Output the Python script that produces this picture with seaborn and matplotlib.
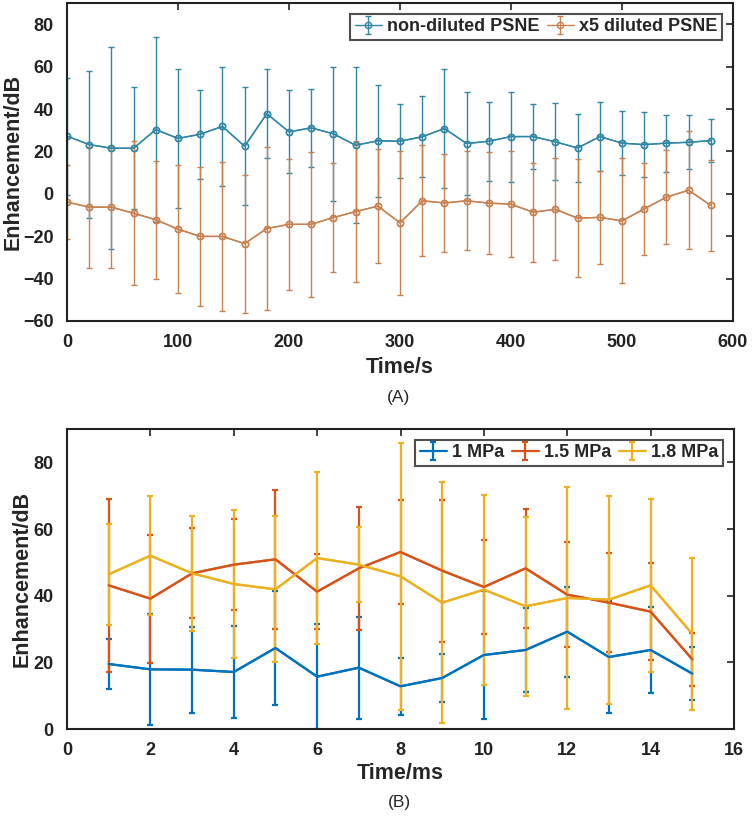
import numpy as np
import pandas as pd
import matplotlib
matplotlib.use("Agg")
import matplotlib.pyplot as plt
import seaborn as sns

# ---- Panel A data ----
time_s = [0, 20, 40, 60, 80, 100, 120, 140, 160, 180, 200, 220, 240, 260, 280,
          300, 320, 340, 360, 380, 400, 420, 440, 460, 480, 500, 520, 540, 560, 580]
nondiluted_mean = [27.2, 23.2, 21.5, 21.5, 30.3, 26.1, 28.1, 31.8, 22.4, 37.8, 29.2, 31.1, 28.3, 22.9, 25.0,
                   24.8, 26.9, 30.8, 23.7, 24.8, 27.0, 27.0, 24.5, 21.6, 27.0, 23.9, 23.2, 23.9, 24.3, 25.1]
nondiluted_err = [27.6, 34.8, 47.7, 28.7, 43.5, 32.8, 20.9, 28.2, 27.8, 21.1, 19.6, 18.3, 31.7, 36.8, 26.3,
                  17.5, 19.2, 28.1, 24.5, 18.6, 21.2, 15.3, 18.2, 16.2, 16.4, 15.1, 15.3, 13.4, 12.8, 10.3]
diluted_mean = [-3.9, -6.3, -6.3, -9.2, -12.2, -16.7, -20.1, -20.1, -23.5, -16.4, -14.4, -14.4, -11.2, -8.4, -5.8,
                -13.7, -3.3, -4.3, -3.3, -4.4, -4.9, -8.7, -7.3, -11.5, -11.1, -12.8, -7.1, -1.6, 1.7, -5.5]
diluted_err = [17.4, 28.5, 28.5, 34.0, 27.8, 30.2, 32.8, 35.2, 32.6, 38.4, 31.0, 34.3, 25.5, 33.3, 26.7,
               33.9, 26.2, 23.2, 23.4, 24.0, 25.0, 23.4, 24.0, 27.7, 21.8, 29.5, 21.8, 22.3, 27.8, 21.5]
labels_a = ["non-diluted PSNE", "x5 diluted PSNE"]

# ---- Panel B data ----
time_ms = [1, 2, 3, 4, 5, 6, 7, 8, 9, 10, 11, 12, 13, 14, 15]
mpa1_mean = [19.5, 17.9, 17.8, 17.1, 24.3, 15.7, 18.4, 12.8, 15.3, 22.2, 23.7, 29.2, 21.6, 23.7, 16.6]
mpa1_err = [7.4, 16.7, 12.9, 13.8, 17.2, 15.7, 15.3, 8.5, 7.3, 19.1, 12.6, 13.5, 16.7, 12.9, 8.0]
mpa15_mean = [43.1, 39.1, 46.7, 49.3, 50.9, 41.2, 48.2, 53.1, 47.5, 42.6, 48.2, 40.3, 37.9, 35.2, 20.9]
mpa15_err = [26.0, 19.2, 13.5, 13.7, 20.8, 11.3, 18.5, 15.5, 21.3, 14.0, 17.9, 15.7, 14.9, 14.5, 8.0]
mpa18_mean = [46.4, 52.0, 46.7, 43.5, 41.9, 51.3, 49.3, 45.8, 37.9, 41.8, 36.8, 39.3, 38.8, 43.1, 28.5]
mpa18_err = [15.2, 17.8, 17.3, 22.2, 21.9, 25.9, 11.2, 40.0, 36.1, 28.5, 26.8, 33.2, 31.2, 26.0, 22.8]
labels_b = ["1 MPa", "1.5 MPa", "1.8 MPa"]

sns.set_style("white")
plt.rcParams["font.family"] = ["Liberation Sans", "DejaVu Sans"]
plt.rcParams["font.weight"] = "bold"

fig = plt.figure(figsize=(7.52, 8.17), dpi=100)
axA = fig.add_axes([67/752, 1-321/817, 666/752, 318/817])
axB = fig.add_axes([67/752, 1-729/817, 667/752, 300/817])

dfA = pd.DataFrame({
    "t": time_s * 2,
    "v": nondiluted_mean + diluted_mean,
    "s": [labels_a[0]] * len(time_s) + [labels_a[1]] * len(time_s),
})
colA = ["#2f86a6", "#c8804f"]
sns.lineplot(data=dfA, x="t", y="v", hue="s", palette=colA, ax=axA, marker="o",
             markersize=4.5, markerfacecolor="none", markeredgewidth=1.0, linewidth=1.0,
             legend=False)
for line, c in zip(axA.lines, colA):
    line.set_markeredgecolor(c)
handlesA = []
for m, e, c, lab in [(nondiluted_mean, nondiluted_err, colA[0], labels_a[0]),
                     (diluted_mean, diluted_err, colA[1], labels_a[1])]:
    h = axA.errorbar(time_s, m, yerr=e, fmt="o-", color=c, ecolor=c, elinewidth=1.0,
                     capsize=2, capthick=1.0, markersize=4.5, mfc="none", lw=1.0,
                     markeredgewidth=1.0, label=lab, zorder=2)
    handlesA.append(h)
axA.set_xlim(0, 600)
axA.set_ylim(-60, 90)
axA.set_xticks(np.arange(0, 601, 100))
axA.set_yticks(np.arange(-60, 81, 20))
axA.set_xlabel("Time/s", fontsize=15.5, fontweight="bold", labelpad=4)
axA.set_ylabel("Enhancement/dB", fontsize=15.5, fontweight="bold")
axA.yaxis.set_label_coords(-0.065, 0.5)
legA = axA.legend(handles=handlesA, loc="upper right", ncol=2,
                  frameon=True, fancybox=False, edgecolor="#222222",
                  handlelength=1.5, columnspacing=0.4, handletextpad=0.3,
                  borderpad=0.25, borderaxespad=0.6, prop={"weight": "bold", "size": 13})
legA.get_frame().set_linewidth(1.5)

dfB = pd.DataFrame({
    "t": time_ms * 3,
    "v": mpa1_mean + mpa15_mean + mpa18_mean,
    "s": [labels_b[0]] * 15 + [labels_b[1]] * 15 + [labels_b[2]] * 15,
})
colB = ["#0072bd", "#d95319", "#edb120"]
sns.lineplot(data=dfB, x="t", y="v", hue="s", palette=colB, ax=axB, linewidth=1.6,
             legend=False)
handlesB = []
for m, e, c, lab in [(mpa1_mean, mpa1_err, colB[0], labels_b[0]),
                     (mpa15_mean, mpa15_err, colB[1], labels_b[1]),
                     (mpa18_mean, mpa18_err, colB[2], labels_b[2])]:
    h = axB.errorbar(time_ms, m, yerr=e, fmt="-", color=c, ecolor=c, elinewidth=1.6,
                     capsize=2, capthick=1.6, lw=1.6, label=lab)
    handlesB.append(h)
axB.set_xlim(0, 16)
axB.set_ylim(0, 90)
axB.set_xticks(np.arange(0, 17, 2))
axB.set_yticks(np.arange(0, 81, 20))
axB.set_xlabel("Time/ms", fontsize=15.5, fontweight="bold", labelpad=3)
axB.set_ylabel("Enhancement/dB", fontsize=15.5, fontweight="bold")
axB.yaxis.set_label_coords(-0.052, 0.5)
legB = axB.legend(handles=handlesB, loc="upper right", ncol=3,
                  frameon=True, fancybox=False, edgecolor="#222222",
                  handlelength=1.5, columnspacing=0.4, handletextpad=0.3,
                  borderpad=0.25, borderaxespad=0.6, prop={"weight": "bold", "size": 13})
legB.get_frame().set_linewidth(1.5)

for ax in (axA, axB):
    ax.tick_params(direction="in", top=True, right=True, length=5, width=1.2,
                   labelsize=13, pad=9.5, colors="#222222")
    for lbl in ax.get_xticklabels() + ax.get_yticklabels():
        lbl.set_fontweight("bold")
    for sp in ax.spines.values():
        sp.set_visible(True)
        sp.set_linewidth(1.5)
        sp.set_color("#222222")

fig.text(399/752, 1-397/817, "(A)", ha="center", va="center", fontsize=12.5, fontweight="normal")
fig.text(399/752, 1-803/817, "(B)", ha="center", va="center", fontsize=12.5, fontweight="normal")

fig.savefig("out.png", dpi=100)
